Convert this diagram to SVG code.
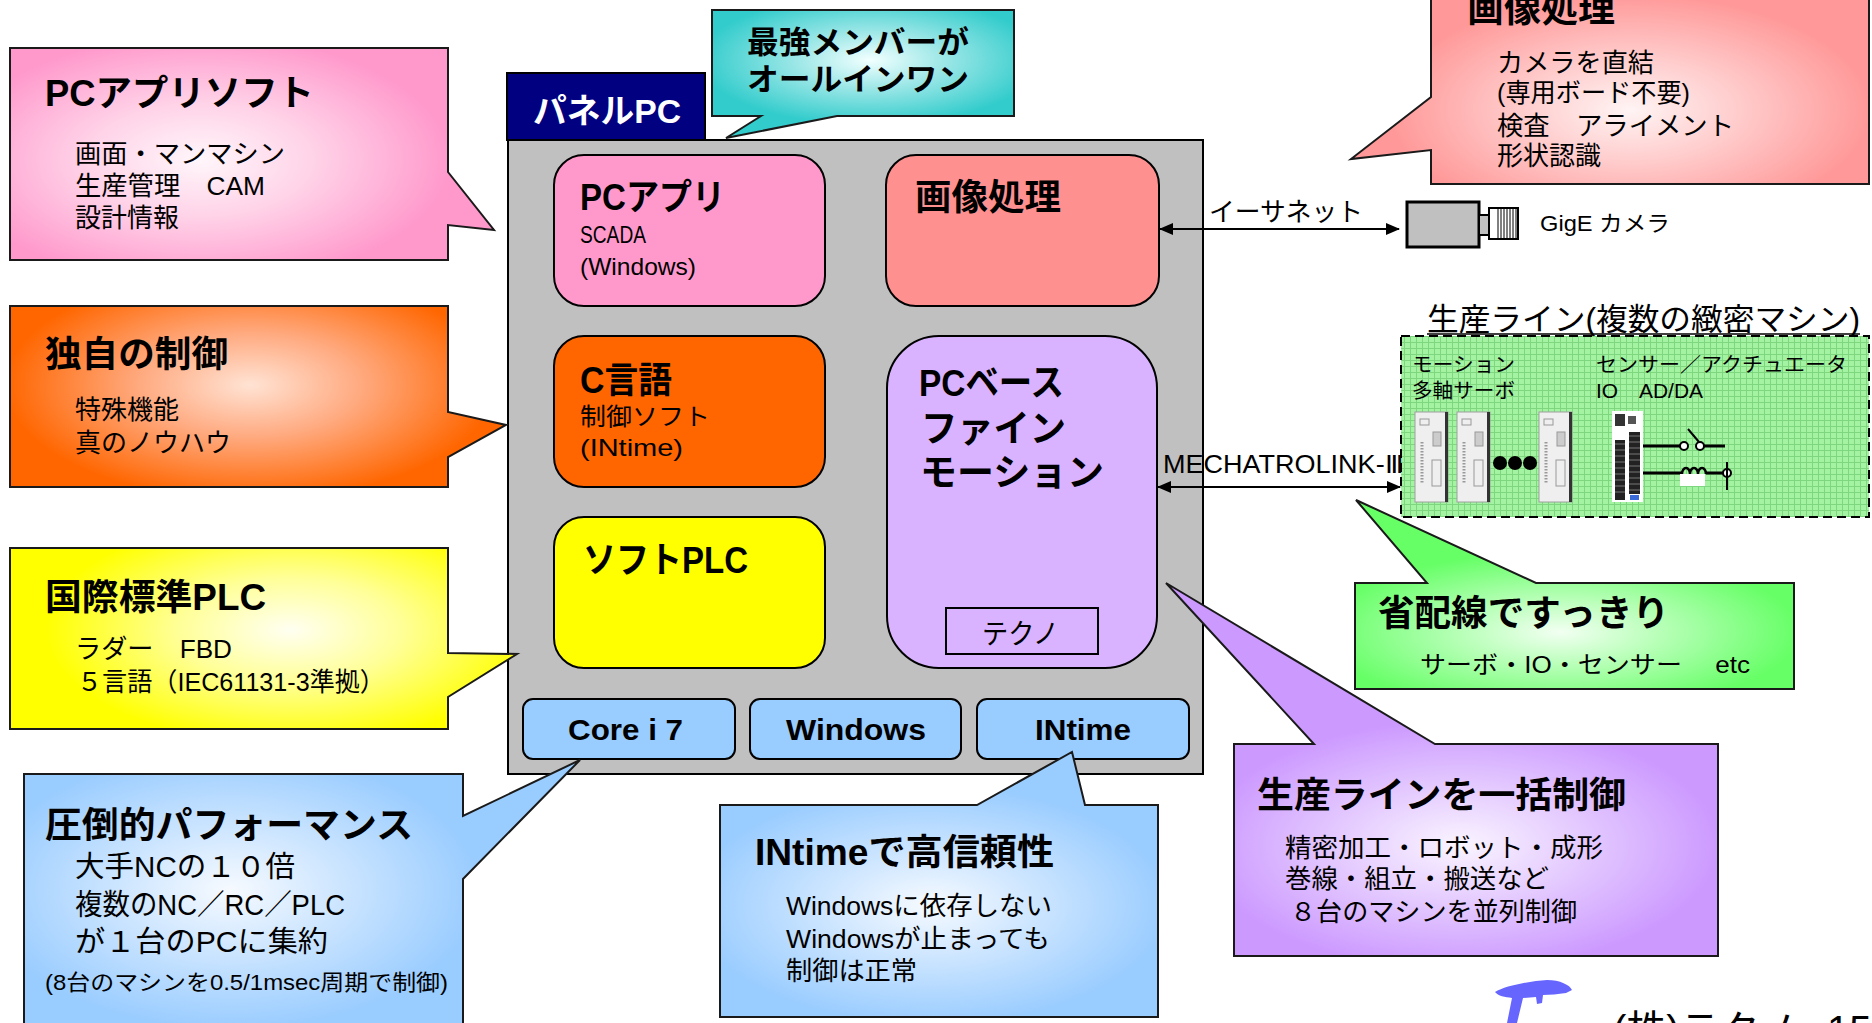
<svg xmlns="http://www.w3.org/2000/svg" width="1872" height="1023" viewBox="0 0 1872 1023">
  <style>
    text { font-family: "Liberation Sans", "Noto Sans CJK JP", "Noto Sans", sans-serif; fill: #000; }
    .ttl { font-size: 36px; font-weight: bold; }
    .bd { font-size: 26px; }
    .box { stroke: #000; stroke-width: 2; }
    .co { stroke: #1a1a1a; stroke-width: 2; stroke-linejoin: miter; }
    .lat { font-family: "Liberation Sans", Arial, sans-serif; }
    .wire { stroke: #000; stroke-width: 2; fill: none; }
  </style>
  <defs>
    <marker id="ah" viewBox="0 0 14 12" refX="13" refY="6" markerWidth="14" markerHeight="12" markerUnits="userSpaceOnUse" orient="auto-start-reverse">
      <path d="M0,0 L14,6 L0,12 Z" fill="#000"/>
    </marker>
    <pattern id="grid" width="6" height="6" patternUnits="userSpaceOnUse">
      <rect width="6" height="6" fill="#A3F3A3"/>
      <path d="M0,0.5 H6 M0.5,0 V6" stroke="#7ED67E" stroke-width="1"/>
    </pattern>
    <radialGradient id="gPink" gradientUnits="userSpaceOnUse" cx="0" cy="0" r="1" gradientTransform="translate(200,160) scale(250,125)">
      <stop offset="0" stop-color="#FFF6FA"/><stop offset="0.45" stop-color="#FFD3E8"/><stop offset="1" stop-color="#FF99CC"/>
    </radialGradient>
    <radialGradient id="gTeal" gradientUnits="userSpaceOnUse" cx="0" cy="0" r="1" gradientTransform="translate(870,60) scale(170,65)">
      <stop offset="0" stop-color="#F2FFFF"/><stop offset="0.45" stop-color="#9AE6E6"/><stop offset="1" stop-color="#33CCCC"/>
    </radialGradient>
    <radialGradient id="gSalmon" gradientUnits="userSpaceOnUse" cx="0" cy="0" r="1" gradientTransform="translate(1630,110) scale(240,115)">
      <stop offset="0" stop-color="#FFF4F4"/><stop offset="0.45" stop-color="#FFCCCC"/><stop offset="1" stop-color="#FF9999"/>
    </radialGradient>
    <radialGradient id="gOrange" gradientUnits="userSpaceOnUse" cx="0" cy="0" r="1" gradientTransform="translate(250,385) scale(245,115)">
      <stop offset="0" stop-color="#FFE3D4"/><stop offset="0.45" stop-color="#FFAA80"/><stop offset="1" stop-color="#FF6600"/>
    </radialGradient>
    <radialGradient id="gYellow" gradientUnits="userSpaceOnUse" cx="0" cy="0" r="1" gradientTransform="translate(290,630) scale(245,115)">
      <stop offset="0" stop-color="#FFFFF2"/><stop offset="0.45" stop-color="#FFFF99"/><stop offset="1" stop-color="#FFFF00"/>
    </radialGradient>
    <radialGradient id="gBlueL" gradientUnits="userSpaceOnUse" cx="0" cy="0" r="1" gradientTransform="translate(230,890) scale(250,140)">
      <stop offset="0" stop-color="#F6FAFF"/><stop offset="0.45" stop-color="#CCE5FF"/><stop offset="1" stop-color="#99CCFF"/>
    </radialGradient>
    <radialGradient id="gBlueR" gradientUnits="userSpaceOnUse" cx="0" cy="0" r="1" gradientTransform="translate(930,905) scale(240,120)">
      <stop offset="0" stop-color="#F6FAFF"/><stop offset="0.45" stop-color="#CCE5FF"/><stop offset="1" stop-color="#99CCFF"/>
    </radialGradient>
    <radialGradient id="gGreen" gradientUnits="userSpaceOnUse" cx="0" cy="0" r="1" gradientTransform="translate(1560,632) scale(240,80)">
      <stop offset="0" stop-color="#F2FFF2"/><stop offset="0.45" stop-color="#B3FFB3"/><stop offset="1" stop-color="#66FF66"/>
    </radialGradient>
    <radialGradient id="gPurple" gradientUnits="userSpaceOnUse" cx="0" cy="0" r="1" gradientTransform="translate(1460,845) scale(260,125)">
      <stop offset="0" stop-color="#FAF4FF"/><stop offset="0.45" stop-color="#E5CCFF"/><stop offset="1" stop-color="#CC99FF"/>
    </radialGradient>
  </defs>

  <!-- Panel PC frame with its inner modules -->
  <g id="panel-pc">
    <rect x="508" y="140" width="695" height="634" fill="#C0C0C0" class="box"/>
    <rect x="507" y="73" width="198" height="67" fill="#000080" class="box"/>
    <text x="533" y="123" font-size="34" font-weight="bold" fill="#fff" style="fill:#fff" textLength="148" lengthAdjust="spacingAndGlyphs">パネルPC</text>
  </g>

  <g id="node-pc-app">
    <rect x="554" y="155" width="271" height="151" rx="30" fill="#FF99CC" class="box"/>
    <text x="580" y="210" font-size="36" font-weight="bold" textLength="145" lengthAdjust="spacingAndGlyphs">PCアプリ</text>
    <text x="580" y="243" font-size="24" textLength="66" lengthAdjust="spacingAndGlyphs">SCADA</text>
    <text x="580" y="275" font-size="24" textLength="116" lengthAdjust="spacingAndGlyphs">(Windows)</text>
  </g>

  <g id="node-image-proc">
    <rect x="886" y="155" width="273" height="151" rx="30" fill="#FF9090" class="box"/>
    <text x="915" y="210" font-size="36" font-weight="bold" textLength="146" lengthAdjust="spacingAndGlyphs">画像処理</text>
  </g>

  <g id="node-c-lang">
    <rect x="554" y="336" width="271" height="151" rx="30" fill="#FF6600" class="box"/>
    <text x="580" y="393" font-size="36" font-weight="bold" textLength="92" lengthAdjust="spacingAndGlyphs">C言語</text>
    <text x="580" y="425" font-size="24" textLength="130" lengthAdjust="spacingAndGlyphs">制御ソフト</text>
    <text x="580" y="456" font-size="24" textLength="103" lengthAdjust="spacingAndGlyphs">(INtime)</text>
  </g>

  <g id="node-soft-plc">
    <rect x="554" y="517" width="271" height="151" rx="30" fill="#FFFF00" class="box"/>
    <text x="583" y="573" font-size="36" font-weight="bold" textLength="165" lengthAdjust="spacingAndGlyphs">ソフトPLC</text>
  </g>

  <g id="node-motion">
    <rect x="887" y="336" width="270" height="332" rx="52" fill="#D9B3FF" class="box"/>
    <text x="919" y="396" font-size="37" font-weight="bold" textLength="145" lengthAdjust="spacingAndGlyphs">PCベース</text>
    <text x="921" y="442" font-size="37" font-weight="bold" textLength="145" lengthAdjust="spacingAndGlyphs">ファイン</text>
    <text x="920" y="486" font-size="37" font-weight="bold" textLength="184" lengthAdjust="spacingAndGlyphs">モーション</text>
    <rect x="946" y="608" width="152" height="46" fill="none" class="box"/>
    <text x="982" y="644" font-size="28" textLength="77" lengthAdjust="spacingAndGlyphs">テクノ</text>
  </g>

  <g id="node-core-i7">
    <rect x="523" y="699" width="212" height="60" rx="10" fill="#99CCFF" class="box"/>
    <text x="568" y="740" class="lat" font-size="30" font-weight="bold" textLength="115" lengthAdjust="spacingAndGlyphs">Core i 7</text>
  </g>
  <g id="node-windows">
    <rect x="750" y="699" width="211" height="60" rx="10" fill="#99CCFF" class="box"/>
    <text x="786" y="740" class="lat" font-size="30" font-weight="bold" textLength="140" lengthAdjust="spacingAndGlyphs">Windows</text>
  </g>
  <g id="node-intime">
    <rect x="977" y="699" width="212" height="60" rx="10" fill="#99CCFF" class="box"/>
    <text x="1035" y="740" class="lat" font-size="30" font-weight="bold" textLength="96" lengthAdjust="spacingAndGlyphs">INtime</text>
  </g>

  <!-- GigE camera -->
  <g id="node-camera">
    <rect x="1407" y="202" width="72" height="45" fill="#C0C0C0" stroke="#000" stroke-width="3"/>
    <rect x="1479" y="215" width="10" height="20" fill="#C0C0C0" stroke="#000" stroke-width="2"/>
    <rect x="1489" y="208" width="29" height="31" fill="#fff" stroke="#000" stroke-width="2"/>
    <path d="M1498,209 V238 M1501,209 V238 M1504,209 V238 M1507,209 V238 M1510,209 V238 M1513,209 V238 M1516,209 V238" stroke="#000" stroke-width="1"/>
    <text x="1540" y="231" font-size="22" textLength="130" lengthAdjust="spacingAndGlyphs">GigE カメラ</text>
  </g>

  <!-- Production line with servos and I/O -->
  <g id="node-production-line">
    <text x="1427" y="330" font-size="31" textLength="433" lengthAdjust="spacingAndGlyphs">生産ライン(複数の緻密マシン)</text>
    <line x1="1427" y1="334" x2="1860" y2="334" stroke="#000" stroke-width="1.5"/>
    <rect x="1401" y="336" width="468" height="181" fill="url(#grid)" stroke="#000" stroke-width="2" stroke-dasharray="9,5"/>
    <text x="1412" y="372" font-size="20" textLength="103" lengthAdjust="spacingAndGlyphs">モーション</text>
    <text x="1412" y="398" font-size="20" textLength="103" lengthAdjust="spacingAndGlyphs">多軸サーボ</text>
    <text x="1596" y="372" font-size="20" textLength="251" lengthAdjust="spacingAndGlyphs">センサー／アクチュエータ</text>
    <text x="1596" y="398" font-size="20" textLength="107" lengthAdjust="spacingAndGlyphs">IO　AD/DA</text>

    <g id="servo-1" transform="translate(1415,412)">
      <rect width="33" height="90" fill="#EFEFEF" stroke="#A0A0A0"/>
      <rect x="30" width="3" height="90" fill="#333"/>
      <rect x="5" y="7" width="9" height="6" fill="none" stroke="#999"/>
      <rect x="18" y="20" width="8" height="14" fill="#ccc" stroke="#999"/>
      <path d="M7,30 V72" stroke="#999" stroke-width="3" stroke-dasharray="1.5,1.5"/>
      <rect x="17" y="48" width="9" height="26" fill="none" stroke="#999"/>
    </g>
    <g id="servo-2" transform="translate(1457,412)">
      <rect width="33" height="90" fill="#EFEFEF" stroke="#A0A0A0"/>
      <rect x="30" width="3" height="90" fill="#333"/>
      <rect x="5" y="7" width="9" height="6" fill="none" stroke="#999"/>
      <rect x="18" y="20" width="8" height="14" fill="#ccc" stroke="#999"/>
      <path d="M7,30 V72" stroke="#999" stroke-width="3" stroke-dasharray="1.5,1.5"/>
      <rect x="17" y="48" width="9" height="26" fill="none" stroke="#999"/>
    </g>
    <circle cx="1500" cy="463" r="7" fill="#000"/>
    <circle cx="1515" cy="463" r="7" fill="#000"/>
    <circle cx="1530" cy="463" r="7" fill="#000"/>
    <g id="servo-3" transform="translate(1539,412)">
      <rect width="33" height="90" fill="#EFEFEF" stroke="#A0A0A0"/>
      <rect x="30" width="3" height="90" fill="#333"/>
      <rect x="5" y="7" width="9" height="6" fill="none" stroke="#999"/>
      <rect x="18" y="20" width="8" height="14" fill="#ccc" stroke="#999"/>
      <path d="M7,30 V72" stroke="#999" stroke-width="3" stroke-dasharray="1.5,1.5"/>
      <rect x="17" y="48" width="9" height="26" fill="none" stroke="#999"/>
    </g>

    <g id="io-module">
      <rect x="1612" y="411" width="31" height="91" fill="#fff"/>
      <rect x="1615" y="414" width="10" height="12" fill="#333"/>
      <rect x="1628" y="416" width="8" height="8" fill="#555"/>
      <rect x="1615" y="440" width="10" height="60" fill="#222"/>
      <rect x="1629" y="432" width="11" height="62" fill="#222"/>
      <path d="M1615,444 H1625 M1615,450 H1625 M1615,456 H1625 M1615,462 H1625 M1615,468 H1625 M1615,474 H1625 M1615,480 H1625 M1615,486 H1625 M1615,492 H1625 M1629,436 H1640 M1629,442 H1640 M1629,448 H1640 M1629,454 H1640 M1629,460 H1640 M1629,466 H1640 M1629,472 H1640 M1629,478 H1640 M1629,484 H1640 M1629,490 H1640" stroke="#777" stroke-width="1"/>
      <rect x="1630" y="495" width="9" height="5" fill="#3a6ad8"/>
    </g>
    <!-- switch contact -->
    <line x1="1643" y1="446" x2="1680" y2="446" stroke="#000" stroke-width="3"/>
    <circle cx="1684" cy="446" r="4" fill="#fff" stroke="#000" stroke-width="2"/>
    <circle cx="1700" cy="446" r="4" fill="#fff" stroke="#000" stroke-width="2"/>
    <line x1="1688" y1="429" x2="1699" y2="442" stroke="#000" stroke-width="2"/>
    <line x1="1704" y1="446" x2="1725" y2="446" stroke="#000" stroke-width="3"/>
    <!-- coil -->
    <line x1="1643" y1="473" x2="1682" y2="473" stroke="#000" stroke-width="3"/>
    <rect x="1680" y="474" width="25" height="12" fill="#fff"/>
    <path d="M1682,474 a4,6 0 0 1 8,0 a4,6 0 0 1 8,0 a4,6 0 0 1 8,0" fill="none" stroke="#000" stroke-width="2.5"/>
    <line x1="1706" y1="473" x2="1723" y2="473" stroke="#000" stroke-width="3"/>
    <circle cx="1727" cy="473" r="4" fill="#fff" stroke="#000" stroke-width="2"/>
    <line x1="1727" y1="462" x2="1727" y2="490" stroke="#000" stroke-width="2"/>
  </g>

  <!-- Connectors -->
  <g id="connectors">
    <line x1="1160" y1="229" x2="1399" y2="229" class="wire" marker-start="url(#ah)" marker-end="url(#ah)"/>
    <text x="1209" y="221" font-size="26" textLength="154" lengthAdjust="spacingAndGlyphs">イーサネット</text>
    <line x1="1158" y1="487" x2="1400" y2="487" class="wire" marker-start="url(#ah)" marker-end="url(#ah)"/>
    <text x="1163" y="473" class="lat" font-size="25" textLength="240" lengthAdjust="spacingAndGlyphs">MECHATROLINK-Ⅲ</text>
  </g>

  <!-- Callouts -->
  <g id="callout-pc-app-soft">
    <path d="M10,48 H448 V172 L494,230 L448,225 V260 H10 Z" fill="url(#gPink)" class="co"/>
    <text x="45" y="106" class="ttl" textLength="269" lengthAdjust="spacingAndGlyphs">PCアプリソフト</text>
    <text x="75" y="163" class="bd" textLength="210" lengthAdjust="spacingAndGlyphs">画面・マンマシン</text>
    <text x="75" y="195" class="bd" textLength="190" lengthAdjust="spacingAndGlyphs">生産管理　CAM</text>
    <text x="75" y="227" class="bd" textLength="104" lengthAdjust="spacingAndGlyphs">設計情報</text>
  </g>

  <g id="callout-all-in-one">
    <path d="M712,10 H1014 V116 H837 L726,138 L761,116 H712 Z" fill="url(#gTeal)" class="co"/>
    <text x="747" y="53" font-size="31" font-weight="bold" textLength="222" lengthAdjust="spacingAndGlyphs">最強メンバーが</text>
    <text x="747" y="90" font-size="31" font-weight="bold" textLength="222" lengthAdjust="spacingAndGlyphs">オールインワン</text>
  </g>

  <g id="callout-image-proc">
    <path d="M1431,-40 H1869 V184 H1431 V150 L1351,159 L1431,97 Z" fill="url(#gSalmon)" class="co"/>
    <text x="1467" y="22" class="ttl" textLength="148" lengthAdjust="spacingAndGlyphs">画像処理</text>
    <text x="1497" y="72" class="bd" textLength="157" lengthAdjust="spacingAndGlyphs">カメラを直結</text>
    <text x="1497" y="102" class="bd" textLength="193" lengthAdjust="spacingAndGlyphs">(専用ボード不要)</text>
    <text x="1497" y="135" class="bd" textLength="237" lengthAdjust="spacingAndGlyphs">検査　アライメント</text>
    <text x="1497" y="165" class="bd" textLength="104" lengthAdjust="spacingAndGlyphs">形状認識</text>
  </g>

  <g id="callout-own-control">
    <path d="M10,306 H448 V412 L506,425 L448,457 V487 H10 Z" fill="url(#gOrange)" class="co"/>
    <text x="45" y="367" class="ttl" textLength="183" lengthAdjust="spacingAndGlyphs">独自の制御</text>
    <text x="75" y="419" class="bd" textLength="104" lengthAdjust="spacingAndGlyphs">特殊機能</text>
    <text x="75" y="452" class="bd" textLength="156" lengthAdjust="spacingAndGlyphs">真のノウハウ</text>
  </g>

  <g id="callout-std-plc">
    <path d="M10,548 H448 V653 L517,654 L448,697 V729 H10 Z" fill="url(#gYellow)" class="co"/>
    <text x="45" y="610" class="ttl" textLength="221" lengthAdjust="spacingAndGlyphs">国際標準PLC</text>
    <text x="75" y="658" class="bd" textLength="157" lengthAdjust="spacingAndGlyphs">ラダー　FBD</text>
    <text x="77" y="691" class="bd" textLength="308" lengthAdjust="spacingAndGlyphs">５言語（IEC61131-3準拠）</text>
  </g>

  <g id="callout-performance">
    <path d="M24,774 H463 V816 L580,760 L463,879 V1040 H24 Z" fill="url(#gBlueL)" class="co"/>
    <text x="45" y="838" class="ttl" textLength="368" lengthAdjust="spacingAndGlyphs">圧倒的パフォーマンス</text>
    <text x="75" y="877" font-size="29" textLength="220" lengthAdjust="spacingAndGlyphs">大手NCの１０倍</text>
    <text x="75" y="915" font-size="29" textLength="270" lengthAdjust="spacingAndGlyphs">複数のNC／RC／PLC</text>
    <text x="75" y="952" font-size="29" textLength="253" lengthAdjust="spacingAndGlyphs">が１台のPCに集約</text>
    <text x="45" y="990" font-size="22" textLength="403" lengthAdjust="spacingAndGlyphs">(8台のマシンを0.5/1msec周期で制御)</text>
  </g>

  <g id="callout-reliability">
    <path d="M720,805 H977 L1072,752 L1085,805 H1158 V1017 H720 Z" fill="url(#gBlueR)" class="co"/>
    <text x="755" y="865" class="ttl" textLength="299" lengthAdjust="spacingAndGlyphs">INtimeで高信頼性</text>
    <text x="786" y="915" class="bd" textLength="266" lengthAdjust="spacingAndGlyphs">Windowsに依存しない</text>
    <text x="786" y="948" class="bd" textLength="264" lengthAdjust="spacingAndGlyphs">Windowsが止まっても</text>
    <text x="786" y="980" class="bd" textLength="131" lengthAdjust="spacingAndGlyphs">制御は正常</text>
  </g>

  <g id="callout-wiring">
    <path d="M1355,583 H1427 L1356,500 L1536,583 H1794 V689 H1355 Z" fill="url(#gGreen)" class="co"/>
    <text x="1378" y="626" class="ttl" textLength="291" lengthAdjust="spacingAndGlyphs">省配線ですっきり</text>
    <text x="1420" y="673" font-size="24" textLength="330" lengthAdjust="spacingAndGlyphs">サーボ・IO・センサー　 etc</text>
  </g>

  <g id="callout-line-control">
    <path d="M1234,744 H1314 L1166,583 L1435,744 H1718 V956 H1234 Z" fill="url(#gPurple)" class="co"/>
    <text x="1257" y="808" class="ttl" textLength="369" lengthAdjust="spacingAndGlyphs">生産ラインを一括制御</text>
    <text x="1285" y="857" class="bd" textLength="318" lengthAdjust="spacingAndGlyphs">精密加工・ロボット・成形</text>
    <text x="1285" y="888" class="bd" textLength="264" lengthAdjust="spacingAndGlyphs">巻線・組立・搬送など</text>
    <text x="1290" y="921" class="bd" textLength="287" lengthAdjust="spacingAndGlyphs">８台のマシンを並列制御</text>
  </g>

  <!-- Footer logo and page label -->
  <g id="footer">
    <path d="M1495,992 C1505,986 1530,981 1547,980 C1560,980 1570,985 1572,990 L1566,993 C1558,994 1550,995 1543,995 L1542,1003 L1537,1004 L1536,997 L1523,998 L1517,1023 L1507,1023 L1512,998 C1505,997 1498,996 1495,992 Z" fill="#6666FF"/>
    <text x="1613" y="1044" font-size="40">(株)テクノ</text>
    <text x="1827" y="1044" font-size="40" class="lat">15</text>
  </g>
</svg>
